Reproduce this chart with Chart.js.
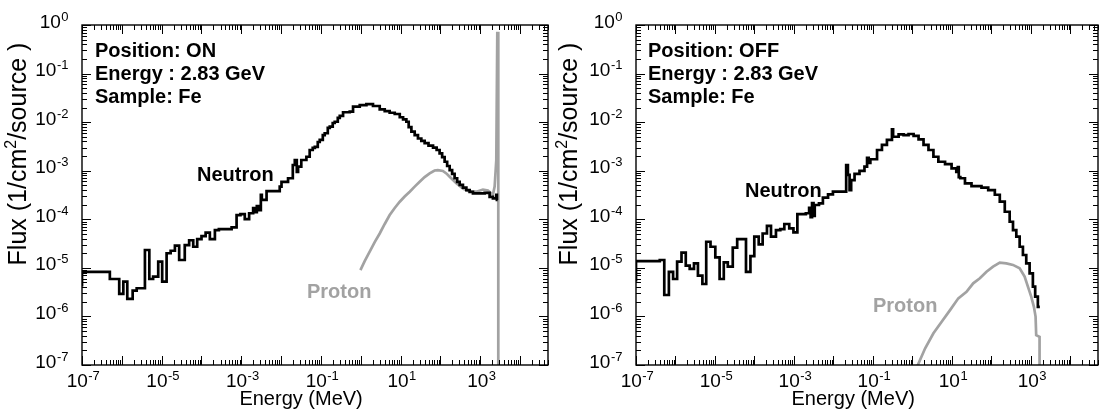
<!DOCTYPE html>
<html>
<head>
<meta charset="utf-8">
<script src="https://cdn.jsdelivr.net/npm/chart.js@4/dist/chart.umd.min.js"></script>
<style>
  html, body { margin: 0; padding: 0; background: #fff; }
  #wrap { position: relative; width: 1099px; height: 414px; }
  canvas { position: absolute; top: 0; }
</style>
</head>
<body>
<div id="wrap">
  <canvas id="on" width="550" height="414" style="left:0"></canvas>
  <canvas id="off" width="549" height="414" style="left:550px"></canvas>
</div>
<script>
// --- data (energy in MeV = bin edges, flux per bin) ---
const onNeutronE = [5e-8, 1e-7, 5.0e-7, 8.6e-7, 1.09e-6, 1.37e-6, 1.87e-6, 2.36e-6, 3.8e-6, 4.9e-6, 6.1e-6, 8.2e-6, 1.03e-5, 1.33e-5, 1.68e-5, 2.15e-5, 2.75e-5, 3.8e-5, 4.9e-5, 6.2e-5, 7.8e-5, 1.0e-4, 1.27e-4, 1.62e-4, 2.17e-4, 2.73e-4, 5.7e-4, 7.6e-4, 9.5e-4, 1.22e-3, 1.57e-3, 1.98e-3, 2.18e-3, 2.45e-3, 2.75e-3, 3.09e-3, 3.27e-3, 4.3e-3, 9.2e-3, 1.02e-2, 1.49e-2, 1.96e-2, 2.2e-2, 2.47e-2, 2.66e-2, 3.2e-2, 4.3e-2, 5.2e-2, 6.2e-2, 7.0e-2, 8.3e-2, 9.3e-2, 0.111, 0.124, 0.148, 0.166, 0.197, 0.221, 0.264, 0.296, 0.358, 0.527, 0.638, 0.94, 1.38, 2.02, 2.98, 3.98, 5.3, 7.1, 9.5, 11.5, 13.9, 15.9, 18.6, 22.5, 27.2, 33, 40, 50, 65, 80, 95, 110, 127, 147, 170, 196, 226, 262, 303, 366, 446, 540, 653, 961, 1283, 1711, 2070, 2518, 2606, 2716];
const onNeutronF = [4.4e-6, 8.3e-6, 5.9e-6, 2.9e-6, 5.2e-6, 2.3e-6, 3.4e-6, 3.8e-6, 2.33e-5, 5.9e-6, 6.6e-6, 1.34e-5, 5.2e-6, 2.0e-5, 2.25e-5, 2.86e-5, 1.45e-5, 2.95e-5, 3.7e-5, 2.72e-5, 3.9e-5, 4.5e-5, 5.3e-5, 3.9e-5, 6.0e-5, 6.3e-5, 6.8e-5, 1.22e-4, 1.28e-4, 1.01e-4, 1.33e-4, 1.7e-4, 1.41e-4, 1.87e-4, 1.55e-4, 3.2e-4, 2.5e-4, 3.8e-4, 4.7e-4, 5.9e-4, 7.0e-4, 1.31e-3, 1.66e-3, 9.4e-4, 1.21e-3, 1.66e-3, 1.94e-3, 2.67e-3, 2.94e-3, 3.1e-3, 3.9e-3, 4.3e-3, 5.4e-3, 5.9e-3, 7.6e-3, 8.1e-3, 9.6e-3, 1.02e-2, 1.22e-2, 1.34e-2, 1.6e-2, 1.64e-2, 2.08e-2, 2.25e-2, 2.36e-2, 2.15e-2, 1.84e-2, 1.69e-2, 1.56e-2, 1.47e-2, 1.26e-2, 1.14e-2, 1.02e-2, 7.9e-3, 6.4e-3, 5.4e-3, 4.6e-3, 4.1e-3, 3.7e-3, 3.3e-3, 3.0e-3, 2.67e-3, 2.28e-3, 1.91e-3, 1.53e-3, 1.25e-3, 1.03e-3, 8.6e-4, 7.0e-4, 5.9e-4, 5.1e-4, 4.5e-4, 4.0e-4, 3.65e-4, 3.4e-4, 3.4e-4, 3.5e-4, 2.9e-4, 2.7e-4, 3.2e-4, 2.5e-4, 2.5e-4];
const onProtonE = [0.977, 1.25, 1.67, 2.23, 2.98, 3.98, 5.3, 7.1, 9.5, 12.6, 16.9, 22.5, 30, 40, 53.5, 71, 86, 115, 140, 170, 250, 366, 540, 794, 1161, 1552, 2070, 2286, 2518, 2667, 2825, 2825];
const onProtonF = [9.0e-6, 1.38e-5, 2.15e-5, 3.4e-5, 5.1e-5, 8.0e-5, 1.22e-4, 1.71e-4, 2.3e-4, 2.94e-4, 3.7e-4, 4.7e-4, 5.9e-4, 7.4e-4, 8.8e-4, 1.01e-3, 1.03e-3, 9.9e-4, 8.8e-4, 7.5e-4, 5.5e-4, 4.3e-4, 3.7e-4, 3.7e-4, 4.1e-4, 3.9e-4, 3.2e-4, 4.7e-4, 1.66e-3, 0.68, 0.68, 1e-9];

const offNeutronE = [5e-8, 1e-7, 4.0e-7, 5.2e-7, 6.8e-7, 8.7e-7, 1.10e-6, 1.42e-6, 1.82e-6, 2.29e-6, 2.94e-6, 3.7e-6, 4.8e-6, 6.0e-6, 7.7e-6, 1.02e-5, 1.31e-5, 1.67e-5, 2.11e-5, 2.82e-5, 3.65e-5, 6.1e-5, 7.9e-5, 9.9e-5, 1.28e-4, 1.61e-4, 2.07e-4, 2.62e-4, 3.5e-4, 4.5e-4, 5.7e-4, 7.6e-4, 9.7e-4, 1.22e-3, 2.0e-3, 2.42e-3, 2.64e-3, 2.87e-3, 3.13e-3, 3.36e-3, 4.3e-3, 5.4e-3, 7.3e-3, 9.7e-3, 2.10e-2, 2.32e-2, 2.56e-2, 2.81e-2, 3.42e-2, 4.57e-2, 6.1e-2, 7.1e-2, 7.8e-2, 8.6e-2, 0.127, 0.169, 0.226, 0.303, 0.324, 0.447, 0.597, 0.798, 1.07, 1.43, 1.91, 2.55, 3.40, 4.54, 6.7, 9.8, 12.9, 14.1, 14.9, 16.3, 21.4, 31.3, 56, 83, 122, 163, 218, 290, 352, 427, 519, 628, 762, 927, 1122, 1283, 1500, 1686];
const offNeutronF = [5.6e-6, 1.38e-5, 1.45e-5, 2.76e-6, 8.3e-6, 5.9e-6, 1.34e-5, 2.05e-5, 1.11e-5, 9.5e-6, 1.24e-5, 6.9e-6, 4.65e-6, 3.45e-5, 2.72e-5, 1.65e-5, 5.9e-6, 1.30e-5, 1.06e-5, 2.6e-5, 3.9e-5, 8.3e-6, 1.75e-5, 4.4e-5, 3.05e-5, 5.1e-5, 7.3e-5, 4.4e-5, 6.0e-5, 6.3e-5, 8.0e-5, 6.5e-5, 5.4e-5, 1.28e-4, 1.33e-4, 1.71e-4, 1.11e-4, 2.16e-4, 1.17e-4, 1.97e-4, 2.13e-4, 2.78e-4, 3.27e-4, 3.7e-4, 1.31e-3, 8.2e-4, 4.0e-4, 6.4e-4, 8.6e-4, 9.9e-4, 1.21e-3, 1.83e-3, 1.44e-3, 1.72e-3, 2.67e-3, 3.4e-3, 4.3e-3, 7.1e-3, 5.0e-3, 5.6e-3, 5.4e-3, 5.7e-3, 5.2e-3, 4.4e-3, 3.4e-3, 2.67e-3, 1.94e-3, 1.53e-3, 1.37e-3, 1.12e-3, 9.4e-4, 1.19e-3, 7.4e-4, 7.0e-4, 5.5e-4, 4.8e-4, 4.5e-4, 4.0e-4, 3.2e-4, 2.3e-4, 1.43e-4, 8.9e-5, 6.0e-5, 4.4e-5, 2.72e-5, 1.84e-5, 1.24e-5, 7.7e-6, 4.1e-6, 2.55e-6, 1.58e-6, 1.58e-6];
const offProtonE = [1.13, 2.10, 3.40, 5.5, 8.96, 14.5, 23.4, 34.6, 51, 75, 110, 163, 239, 352, 519, 693, 840, 1018, 1191, 1313, 1361, 1656, 1656];
const offProtonF = [7e-8, 2.21e-7, 4.5e-7, 7.8e-7, 1.35e-6, 2.36e-6, 3.2e-6, 4.8e-6, 6.1e-6, 8.3e-6, 1.06e-5, 1.28e-5, 1.24e-5, 1.15e-5, 9.8e-6, 6.6e-6, 4.1e-6, 2.55e-6, 1.58e-6, 9.9e-7, 4.1e-7, 3.8e-7, 1e-9];

// axis ranges and labelled decades
const xMin = 1e-7, xMax = 5e4;
const yMin = 1e-7, yMax = 1;
const xLabelExps = [-7, -5, -3, -1, 1, 3];
const yLabelExps = [0, -1, -2, -3, -4, -5, -6, -7];

const FONT = '"Liberation Sans", Arial, Helvetica, sans-serif';
const GREY = '#a2a2a2';

const toPoints = (xs, ys) => xs.map((x, i) => ({ x, y: ys[i] }));

function powerLabel(ctx, exp, x, y, align) {
    const base = '10', sup = String(exp);
    ctx.font = '19px ' + FONT;
    const wb = ctx.measureText(base).width;
    ctx.font = '13px ' + FONT;
    const ws = ctx.measureText(sup).width;
    const x0 = align === 'right' ? x - wb - ws : x - (wb + ws) / 2;
    ctx.textAlign = 'left';
    ctx.textBaseline = 'alphabetic';
    ctx.font = '19px ' + FONT;
    ctx.fillText(base, x0, y);
    ctx.font = '13px ' + FONT;
    ctx.fillText(sup, x0 + wb + 0.5, y - 7);
}

// frame, inward ticks, power-of-ten labels, titles and notes
const framePlugin = {
    id: 'frame',
    afterDatasetsDraw(chart, args, opts) {
        const { ctx, chartArea: a, scales: { x, y } } = chart;
        ctx.save();
        ctx.strokeStyle = '#000';
        ctx.fillStyle = '#000';
        ctx.lineWidth = 1;
        ctx.beginPath();
        for (let e = -7; e <= 4; e++) {
            for (let m = 1; m <= 9; m++) {
                const v = m * Math.pow(10, e);
                if (v > xMax) break;
                const px = Math.round(x.getPixelForValue(v)) + 0.5;
                const len = m === 1 ? 9 : 5;
                ctx.moveTo(px, a.bottom); ctx.lineTo(px, a.bottom - len);
                ctx.moveTo(px, a.top); ctx.lineTo(px, a.top + len);
            }
        }
        for (let e = -7; e <= 0; e++) {
            for (let m = 1; m <= 9; m++) {
                const v = m * Math.pow(10, e);
                if (v > yMax) break;
                const py = Math.round(y.getPixelForValue(v)) + 0.5;
                const len = m === 1 ? 9 : 5;
                ctx.moveTo(a.left, py); ctx.lineTo(a.left + len, py);
                ctx.moveTo(a.right, py); ctx.lineTo(a.right - len, py);
            }
        }
        ctx.stroke();
        ctx.lineWidth = 1.4;
        ctx.strokeRect(a.left, a.top, a.right - a.left, a.bottom - a.top);

        yLabelExps.forEach(e => powerLabel(ctx, e, a.left - 14, y.getPixelForValue(Math.pow(10, e)) + 2.5, 'right'));
        xLabelExps.forEach(e => powerLabel(ctx, e, x.getPixelForValue(Math.pow(10, e)) + 1, a.bottom + 22, 'center'));

        // x title
        ctx.font = '20px ' + FONT;
        ctx.textAlign = 'center';
        ctx.fillText('Energy (MeV)', x.getPixelForValue(Math.sqrt(1e-7 * 1e4)), 405);

        // y title, rotated, with superscript
        ctx.save();
        ctx.translate(opts.yTitleX, opts.yTitleY);
        ctx.rotate(-Math.PI / 2);
        ctx.textAlign = 'left';
        ctx.font = '25px ' + FONT;
        const p1 = 'Flux (1/cm', p3 = '/source )';
        const w1 = ctx.measureText(p1).width, w3 = ctx.measureText(p3).width;
        ctx.font = '16px ' + FONT;
        const w2 = ctx.measureText('2').width;
        const sx = -(w1 + w2 + w3) / 2;
        ctx.font = '25px ' + FONT;
        ctx.fillText(p1, sx, 0);
        ctx.font = '16px ' + FONT;
        ctx.fillText('2', sx + w1, -10);
        ctx.font = '25px ' + FONT;
        ctx.fillText(p3, sx + w1 + w2, 0);
        ctx.restore();

        // notes
        ctx.font = 'bold 20px ' + FONT;
        ctx.textAlign = 'left';
        opts.notes.forEach((t, i) => ctx.fillText(t, opts.noteX, 57 + i * 23));
        ctx.fillText('Neutron', opts.neutron[0], opts.neutron[1]);
        ctx.fillStyle = GREY;
        ctx.fillText('Proton', opts.proton[0], opts.proton[1]);
        ctx.restore();
    }
};

function makeChart(id, nE, nF, pE, pF, padLeft, padRight, frameOpts) {
    return new Chart(document.getElementById(id), {
        type: 'line',
        data: {
            datasets: [{
                data: toPoints(nE, nF),
                borderColor: '#000',
                borderWidth: 2.7,
                stepped: true,
                pointRadius: 0,
                fill: false,
                clip: 0
            }, {
                data: toPoints(pE, pF),
                borderColor: GREY,
                borderWidth: 2.7,
                pointRadius: 0,
                fill: false,
                clip: 0
            }]
        },
        options: {
            responsive: false,
            animation: false,
            events: [],
            layout: { padding: { left: padLeft, top: 25, right: padRight, bottom: 49 } },
            scales: {
                x: { type: 'logarithmic', min: xMin, max: xMax, display: false },
                y: { type: 'logarithmic', min: yMin, max: yMax, display: false }
            },
            plugins: {
                legend: { display: false },
                tooltip: { enabled: false },
                frame: frameOpts
            }
        },
        plugins: [framePlugin]
    });
}

makeChart('on', onNeutronE, onNeutronF, onProtonE, onProtonF, 82, 2, {
    notes: ['Position: ON', 'Energy : 2.83 GeV', 'Sample: Fe'],
    noteX: 95, neutron: [197, 181], proton: [307, 298],
    yTitleX: 26, yTitleY: 154
});
makeChart('off', offNeutronE, offNeutronF, offProtonE, offProtonF, 86, 1, {
    notes: ['Position: OFF', 'Energy : 2.83 GeV', 'Sample: Fe'],
    noteX: 98, neutron: [195, 197], proton: [323, 312],
    yTitleX: 27, yTitleY: 154
});
</script>
</body>
</html>
